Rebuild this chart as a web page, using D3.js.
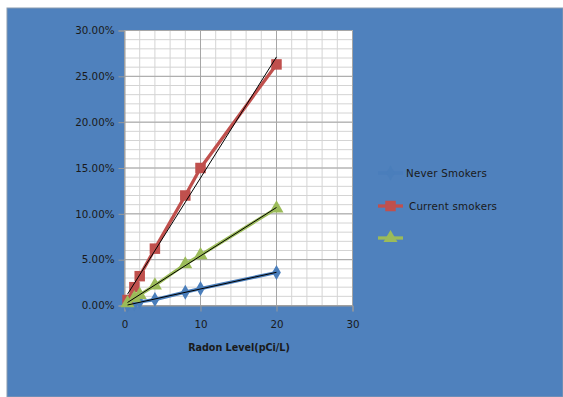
<!DOCTYPE html>
<html><head><meta charset="utf-8">
<script src="https://cdn.jsdelivr.net/npm/d3@7"></script>
<style>body{margin:0;background:#fff;} svg{display:block;} text{font-family:"DejaVu Sans",sans-serif;}</style>
</head><body>
<svg id="c" width="563" height="397"></svg>
<script>
const radon = [0.4, 1.3, 2, 4, 8, 10, 20];
const neverSmokers = [0.04, 0.2, 0.4, 0.65, 1.45, 1.85, 3.6];
const currentSmokers = [0.6, 2.0, 3.2, 6.2, 12.0, 15.0, 26.3];
const generalPop = [0.25, 0.8, 1.15, 2.2, 4.5, 5.5, 10.6];
const seriesNames = ["Never Smokers", "Current smokers", ""];
const seriesColors = ["#4A7EBB", "#C0504D", "#9BBB59"];
const seriesMarkers = [d3.symbolDiamond, d3.symbolSquare, d3.symbolTriangle];
const xTicks = [0, 10, 20, 30];
const yTicks = [0, 5, 10, 15, 20, 25, 30];
const xTitle = "Radon Level(pCi/L)";

const svg = d3.select("#c");
svg.append("rect").attr("x",7).attr("y",8).attr("width",556).attr("height",389)
  .attr("fill","#4F81BD").attr("stroke","#8a9bb0").attr("stroke-width",1);

const x = d3.scaleLinear().domain([0,30]).range([124.5,352.5]);
const y = d3.scaleLinear().domain([0,30]).range([305.5,30.5]);

const plot = svg.append("g");
plot.append("rect").attr("x",x(0)).attr("y",y(30)).attr("width",x(30)-x(0)).attr("height",y(0)-y(30)).attr("fill","#fff");
// minor grid
plot.selectAll(".vmin").data(d3.range(0,31,2)).join("line")
  .attr("x1",d=>x(d)).attr("x2",d=>x(d)).attr("y1",y(0)).attr("y2",y(30))
  .attr("stroke","#d4d4d4").attr("stroke-width",1);
plot.selectAll(".hmin").data(d3.range(0,31,1)).join("line")
  .attr("y1",d=>y(d)).attr("y2",d=>y(d)).attr("x1",x(0)).attr("x2",x(30))
  .attr("stroke","#d4d4d4").attr("stroke-width",1);
// major grid
plot.selectAll(".vmaj").data(xTicks).join("line")
  .attr("x1",d=>x(d)).attr("x2",d=>x(d)).attr("y1",y(0)).attr("y2",y(30))
  .attr("stroke","#a6a6a6").attr("stroke-width",1);
plot.selectAll(".hmaj").data(yTicks).join("line")
  .attr("y1",d=>y(d)).attr("y2",d=>y(d)).attr("x1",x(0)).attr("x2",x(30))
  .attr("stroke","#a6a6a6").attr("stroke-width",1);

// axes
const yAxis = d3.axisLeft(y).tickValues(yTicks).tickFormat(d=>d3.format(".2f")(d)+"%").tickSize(6).tickPadding(4);
const gy = svg.append("g").attr("transform",`translate(${x(0)},0)`).call(yAxis);
const xAxis = d3.axisBottom(x).tickValues(xTicks).tickSize(6).tickPadding(9);
const gx = svg.append("g").attr("transform",`translate(0,${y(0)})`).call(xAxis);
[gx,gy].forEach(g=>{
  g.select(".domain").attr("stroke","#9a9a9a");
  g.selectAll(".tick line").attr("stroke","#9a9a9a");
  g.selectAll("text").attr("fill","#1a1a1a").style("font-size","10.3px").style("font-family","DejaVu Sans, sans-serif");
});

svg.append("text").attr("x",239).attr("y",351).attr("text-anchor","middle")
  .style("font-size","9.6px").style("font-weight","bold").attr("fill","#1a1a1a").text(xTitle);

const allSeries = [neverSmokers, currentSmokers, generalPop];
const line = d3.line().x(d=>x(d[0])).y(d=>y(d[1]));
const markerSizes = [65, 110, 85];

allSeries.forEach((vals,i)=>{
  const pts = radon.map((r,j)=>[r, vals[j]]);
  svg.append("path").attr("d",line(pts)).attr("fill","none")
    .attr("stroke",seriesColors[i]).attr("stroke-width",3.3).attr("stroke-linejoin","round");
  svg.selectAll(null).data(pts).join("path")
    .attr("transform",d=>`translate(${x(d[0])},${y(d[1])})`)
    .attr("d",d3.symbol().type(seriesMarkers[i]).size(markerSizes[i]))
    .attr("fill",seriesColors[i]);
});
// linear trendlines (least squares) over each series
allSeries.forEach((vals,i)=>{
  const mx = d3.mean(radon), my = d3.mean(vals);
  let sxy=0, sxx=0;
  radon.forEach((r,j)=>{sxy+=(r-mx)*(vals[j]-my); sxx+=(r-mx)*(r-mx);});
  const b = sxy/sxx, a = my - b*mx;
  const x0 = d3.min(radon), x1 = d3.max(radon);
  svg.append("line").attr("x1",x(x0)).attr("y1",y(a+b*x0)).attr("x2",x(x1)).attr("y2",y(a+b*x1))
    .attr("stroke","#000").attr("stroke-width",1);
});

// legend
const legY = [173, 206, 238];
const leg = svg.append("g");
seriesNames.forEach((name,i)=>{
  leg.append("line").attr("x1",378).attr("x2",403).attr("y1",legY[i]).attr("y2",legY[i])
    .attr("stroke",seriesColors[i]).attr("stroke-width",3.3);
  leg.append("path").attr("transform",`translate(390.5,${legY[i]})`)
    .attr("d",d3.symbol().type(seriesMarkers[i]).size(markerSizes[i])).attr("fill",seriesColors[i]);
  leg.append("text").attr("x", i===0?406:409).attr("y",legY[i]+3.5)
    .style("font-size","10.3px").style("letter-spacing","0.2px").attr("fill","#1a1a1a").text(name);
});
</script>
</body></html>
